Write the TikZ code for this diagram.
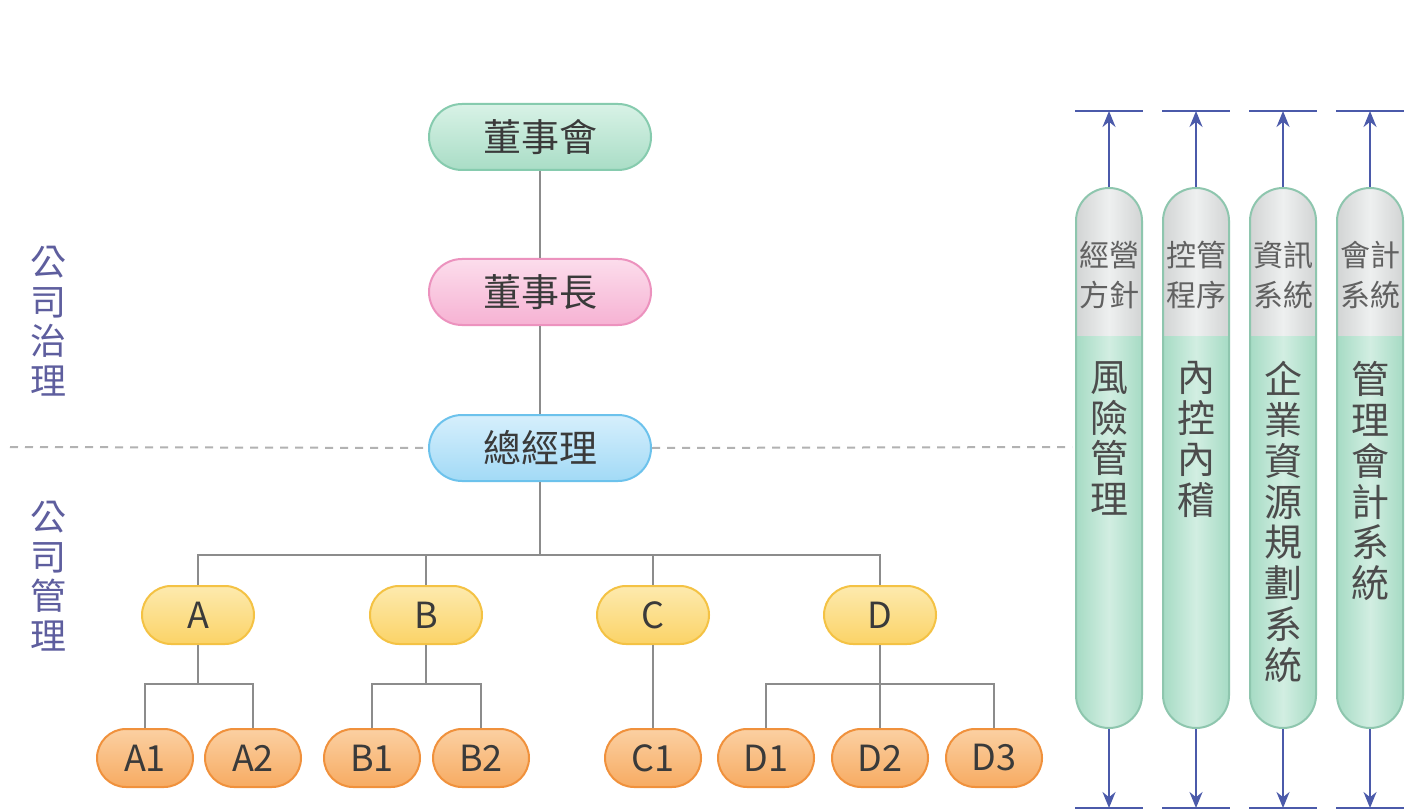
\documentclass[tikz,border=0pt]{standalone}
\usepackage{fontspec}
\setmainfont{Noto Sans CJK TC}
\usetikzlibrary{arrows.meta}
\definecolor{gfill}{HTML}{A9DDC6}
\definecolor{gtop}{HTML}{D8F2E6}
\definecolor{gline}{HTML}{86CBAE}
\definecolor{pfill}{HTML}{F6B2D3}
\definecolor{ptop}{HTML}{FCDDEC}
\definecolor{pline}{HTML}{EC92BE}
\definecolor{bfill}{HTML}{A2DAF6}
\definecolor{btop}{HTML}{D6EFFC}
\definecolor{bline}{HTML}{6CC2EC}
\definecolor{yfill}{HTML}{FBD367}
\definecolor{ytop}{HTML}{FDEAAE}
\definecolor{yline}{HTML}{F4C244}
\definecolor{ofill}{HTML}{F7AB62}
\definecolor{otop}{HTML}{FBD0A2}
\definecolor{oline}{HTML}{F0913C}
\definecolor{txt}{HTML}{3A3A3A}
\definecolor{conn}{HTML}{8C8C8C}
\definecolor{arrc}{HTML}{4B5AAA}
\definecolor{sidec}{HTML}{5E5E9E}
\definecolor{pgray}{HTML}{D2D4D4}
\definecolor{pgrayl}{HTML}{EEF0F0}
\definecolor{pgreen}{HTML}{A6DBC4}
\definecolor{pgreenl}{HTML}{D2EEE2}
\definecolor{pline2}{HTML}{8EC6AE}
\tikzset{
  box/.style={draw, line width=1pt, rounded corners=16.5pt, text=txt, inner sep=0pt,
    font=\fontsize{19}{22}\selectfont},
  topbox/.style={box, minimum width=111pt, minimum height=33pt},
  grn/.style={topbox, draw=gline, top color=gtop, bottom color=gfill},
  pnk/.style={topbox, draw=pline, top color=ptop, bottom color=pfill},
  blu/.style={topbox, draw=bline, top color=btop, bottom color=bfill},
  dept/.style={box, rounded corners=14.5pt, minimum width=56pt, minimum height=29pt,
    draw=yline, top color=ytop, bottom color=yfill, font=\fontsize{18}{20}\selectfont},
  sub/.style={box, rounded corners=14.5pt, minimum width=48pt, minimum height=29pt,
    draw=oline, top color=otop, bottom color=ofill, font=\fontsize{18}{20}\selectfont},
  link/.style={draw=conn, line width=1pt},
  dline/.style={draw=black!30, line width=1pt, dash pattern=on 4pt off 3.5pt},
  pillar/.style={draw=pline2, line width=1pt, rounded corners=16.5pt, minimum width=33pt,
    minimum height=270pt, inner sep=0pt,
    left color=pgreen, right color=pgreen, middle color=pgreenl,
    path picture={\shade[sharp corners, left color=pgray, right color=pgray, middle color=pgrayl]
      (path picture bounding box.north west) rectangle
      ([yshift=-73.5pt]path picture bounding box.north east);}},
  plabel/.style={align=center, text=black!62, inner sep=0pt,
    font=\fontsize{15}{20}\selectfont},
  pmain/.style={align=center, text=black!70, inner sep=0pt, anchor=north,
    font=\fontsize{19}{20.4}\selectfont},
  side/.style={align=center, text=sidec, inner sep=0pt, anchor=north,
    font=\fontsize{18}{19.8}\selectfont},
  arr/.style={draw=arrc, line width=1pt, -{Stealth[length=8pt,width=6.5pt]}},
  capl/.style={draw=arrc, line width=1pt},
}
\begin{document}
\begin{tikzpicture}[x=0.5pt,y=-0.5pt]
\useasboundingbox (0,0) rectangle (1416,812);
\fill[white] (0,0) rectangle (1416,812);

% side labels
\node[side] (gov) at (48,246) {公\\司\\治\\理};
\node[side] (mgt) at (48,501) {公\\司\\管\\理};

% main chain
\node[grn] (bod) at (540,137) {董事會};
\node[pnk] (chair) at (540,292) {董事長};
\node[blu] (gm) at (540,448) {總經理};

\coordinate (dl) at (10,447);
\coordinate (dr) at (1072,447);
\draw[dline] (dl) -- (gm.west);
\draw[dline] (gm.east) -- (dr);

\draw[link] (bod) -- (chair);
\draw[link] (chair) -- (gm);

% departments
\node[dept] (A) at (198,615) {A};
\node[dept] (B) at (426,615) {B};
\node[dept] (C) at (653,615) {C};
\node[dept] (D) at (880,615) {D};
\coordinate (j0) at (540,555);
\draw[link] (gm) -- (j0);
\draw[link] (A) |- (j0);
\draw[link] (B) |- (j0);
\draw[link] (C) |- (j0);
\draw[link] (D) |- (j0);

% sub units
\node[sub] (A1) at (145,758) {A1};
\node[sub] (A2) at (253,758) {A2};
\node[sub] (B1) at (372,758) {B1};
\node[sub] (B2) at (481,758) {B2};
\node[sub] (C1) at (653,758) {C1};
\node[sub] (D1) at (766,758) {D1};
\node[sub] (D2) at (880,758) {D2};
\node[sub] (D3) at (994,758) {D3};

\coordinate (ja) at (198,684);
\coordinate (jb) at (426,684);
\coordinate (jd) at (880,684);
\draw[link] (A) -- (ja);
\draw[link] (A1) |- (ja);
\draw[link] (A2) |- (ja);
\draw[link] (B) -- (jb);
\draw[link] (B1) |- (jb);
\draw[link] (B2) |- (jb);
\draw[link] (C) -- (C1);
\draw[link] (D) -- (jd);
\draw[link] (D1) |- (jd);
\draw[link] (D2) -- (jd);
\draw[link] (D3) |- (jd);

% pillars
\foreach \i/\x/\ta/\tb/\m in {1/1109/經營/方針/{風\\險\\管\\理},
                               2/1196/控管/程序/{內\\控\\內\\稽},
                               3/1283/資訊/系統/{企\\業\\資\\源\\規\\劃\\系\\統},
                               4/1370/會計/系統/{管\\理\\會\\計\\系\\統}}{
  \node[pillar] (p\i) at (\x,458) {};
  \node[plabel] (pl\i) at (\x,275) {\ta\\\tb};
  \node[pmain] (pm\i) at (\x,361) {\m};
  \coordinate (t\i) at (\x,111);
  \coordinate (b\i) at (\x,808);
  \draw[arr] (p\i.north) -- (t\i);
  \draw[arr] (p\i.south) -- (b\i);
  \draw[capl] ([xshift=-17pt]t\i) -- ([xshift=17pt]t\i);
  \draw[capl] ([xshift=-17pt]b\i) -- ([xshift=17pt]b\i);
}
\end{tikzpicture}
\end{document}
